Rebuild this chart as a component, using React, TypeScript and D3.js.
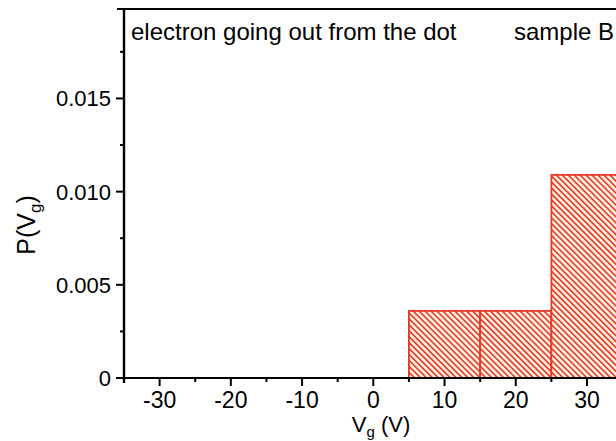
import { useRef, useEffect } from "react";
import * as d3 from "d3";

// histogram bins (V) and probabilities
const binStarts = [5, 15, 25];
const binEnds = [15, 25, 35];
const probs = [0.0036, 0.0036, 0.0109];

const xMajor = [-30, -20, -10, 0, 10, 20, 30];
const xMinor = [-35, -25, -15, -5, 5, 15, 25, 35];
const yMajor = [0, 0.005, 0.01, 0.015];
const yMinor = [0.0025, 0.0075, 0.0125, 0.0175];

function App() {
  const svgRef = useRef<SVGSVGElement>(null);

  useEffect(() => {
    const w = 616;
    const h = 441;
    const svg = d3.select(svgRef.current).attr("width", w).attr("height", h);
    svg.selectAll("*").remove();

    const font = "Arial, 'Liberation Sans', sans-serif";
    const left = 124;
    const bottom = 378;

    const x = d3.scaleLinear().domain([-35, 35]).range([left, left + 498.6]);
    const y = d3.scaleLinear().domain([0, 0.0198]).range([bottom, 9]);

    // hatch pattern
    const defs = svg.append("defs");
    const pat = defs
      .append("pattern")
      .attr("id", "hatch")
      .attr("patternUnits", "userSpaceOnUse")
      .attr("width", 4.2)
      .attr("height", 4.2)
      .attr("patternTransform", "rotate(-45)");
    pat.append("rect").attr("width", 4.2).attr("height", 4.2).attr("fill", "#fcefe0");
    pat
      .append("line")
      .attr("x1", 0)
      .attr("y1", 0)
      .attr("x2", 0)
      .attr("y2", 4.2)
      .attr("stroke", "#e43a27")
      .attr("stroke-width", 3.2);

    // bars
    svg
      .selectAll(".bar")
      .data(probs)
      .join("rect")
      .attr("class", "bar")
      .attr("x", (d, i) => x(binStarts[i]))
      .attr("y", (d) => y(d))
      .attr("width", (d, i) => x(binEnds[i]) - x(binStarts[i]))
      .attr("height", (d) => y(0) - y(d))
      .attr("fill", "url(#hatch)")
      .attr("stroke", "#e43a27")
      .attr("stroke-width", 1.8);

    // frame top
    svg
      .append("line")
      .attr("x1", left - 7)
      .attr("x2", w)
      .attr("y1", 9)
      .attr("y2", 9)
      .attr("stroke", "#000")
      .attr("stroke-width", 2);

    // x axis
    const xAxis = svg.append("g");
    xAxis
      .append("line")
      .attr("x1", left)
      .attr("x2", w)
      .attr("y1", bottom)
      .attr("y2", bottom)
      .attr("stroke", "#000")
      .attr("stroke-width", 2.2);
    xAxis
      .selectAll(".xmaj")
      .data(xMajor)
      .join("line")
      .attr("x1", (d) => x(d))
      .attr("x2", (d) => x(d))
      .attr("y1", bottom)
      .attr("y2", bottom + 8)
      .attr("stroke", "#000")
      .attr("stroke-width", 2);
    xAxis
      .selectAll(".xmin")
      .data(xMinor)
      .join("line")
      .attr("x1", (d) => x(d))
      .attr("x2", (d) => x(d))
      .attr("y1", bottom)
      .attr("y2", bottom + 4)
      .attr("stroke", "#000")
      .attr("stroke-width", 2);
    xAxis
      .selectAll("text")
      .data(xMajor)
      .join("text")
      .attr("x", (d) => x(d))
      .attr("y", 408)
      .attr("text-anchor", "middle")
      .attr("font-family", font)
      .attr("font-size", 23)
      .text((d) => String(d));

    // y axis
    const yAxis = svg.append("g");
    yAxis
      .append("line")
      .attr("x1", left)
      .attr("x2", left)
      .attr("y1", 8)
      .attr("y2", bottom + 5)
      .attr("stroke", "#000")
      .attr("stroke-width", 2.4);
    yAxis
      .selectAll(".ymaj")
      .data(yMajor)
      .join("line")
      .attr("x1", left - 8)
      .attr("x2", left)
      .attr("y1", (d) => y(d))
      .attr("y2", (d) => y(d))
      .attr("stroke", "#000")
      .attr("stroke-width", 2);
    yAxis
      .selectAll(".ymin")
      .data(yMinor)
      .join("line")
      .attr("x1", left - 4)
      .attr("x2", left)
      .attr("y1", (d) => y(d))
      .attr("y2", (d) => y(d))
      .attr("stroke", "#000")
      .attr("stroke-width", 2);
    yAxis
      .selectAll("text")
      .data(yMajor)
      .join("text")
      .attr("x", left - 13)
      .attr("y", (d) => y(d) + 8)
      .attr("text-anchor", "end")
      .attr("font-family", font)
      .attr("font-size", 22)
      .text((d) => (d === 0 ? "0" : d3.format(".3f")(d)));

    // axis titles
    const xt = svg
      .append("text")
      .attr("x", 381)
      .attr("y", 432)
      .attr("text-anchor", "middle")
      .attr("font-family", font)
      .attr("font-size", 22);
    xt.append("tspan").text("V");
    xt.append("tspan").attr("font-size", 15).attr("dy", 5).text("g");
    xt.append("tspan").attr("dy", -5).text(" (V)");

    const yt = svg
      .append("text")
      .attr("transform", "translate(35,225) rotate(-90)")
      .attr("text-anchor", "middle")
      .attr("font-family", font)
      .attr("font-size", 25);
    yt.append("tspan").text("P(V");
    yt.append("tspan").attr("font-size", 17).attr("dy", 6).text("g");
    yt.append("tspan").attr("dy", -6).text(")");

    // annotations
    svg
      .append("text")
      .attr("x", 131)
      .attr("y", 40)
      .attr("font-family", font)
      .attr("font-size", 24)
      .text("electron going out from the dot");
    svg
      .append("text")
      .attr("x", 614)
      .attr("y", 40)
      .attr("text-anchor", "end")
      .attr("font-family", font)
      .attr("font-size", 24)
      .text("sample B");
  }, []);

  return (
    <svg
      ref={svgRef}
      style={{ position: "absolute", left: 0, top: 0, overflow: "hidden" }}
    ></svg>
  );
}

export default App;
